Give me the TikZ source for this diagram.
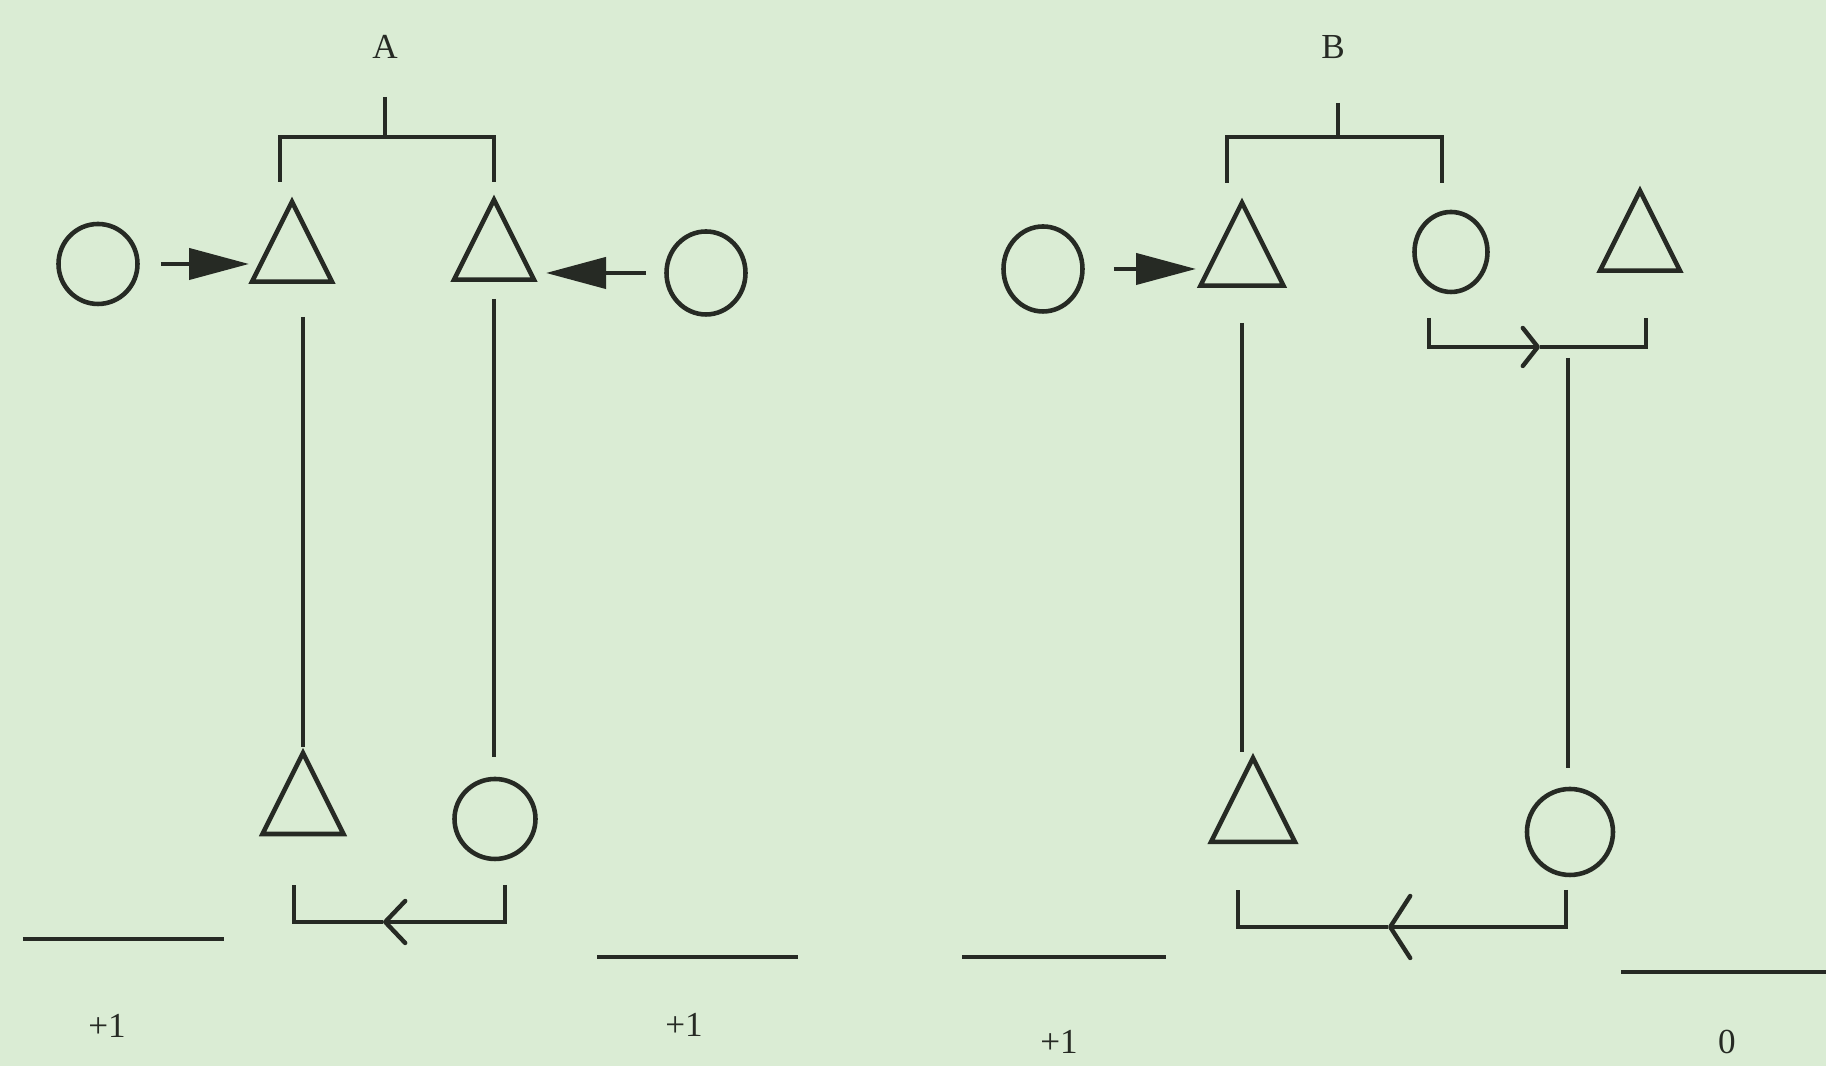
\documentclass[tikz,border=0pt]{standalone}
\usepackage{fontspec}
\setmainfont{Liberation Serif}
\usetikzlibrary{shapes.geometric,arrows.meta,calc}
\definecolor{paper}{RGB}{218,236,212}
\definecolor{ink}{RGB}{38,42,36}
\begin{document}
\begin{tikzpicture}[font=\normalsize, ink,
  ring/.style={ellipse, draw=ink, line width=1.3pt, minimum width=0.79cm, minimum height=0.80cm, inner sep=0pt},
  tri/.style={isosceles triangle, isosceles triangle stretches, shape border rotate=90, draw=ink, line width=1.3pt, minimum width=#1, minimum height=#1, inner sep=0pt},
  tri/.default=0.80cm,
  marry/.style={line width=1.2pt, -{Triangle[length=0.6cm,width=0.31cm]}},
  tie/.style={line width=0.9pt},
  bracket/.style={line width=1.25pt},
  score/.style={line width=1.3pt},
  flow/.style 2 args={-{Straight Barb[length=#1,width=#2,round]}}]
  \useasboundingbox (0,0) rectangle (18.26,10.66);
  \fill[paper] (0,0) rectangle (18.26,10.66);

  % A
  \node (labA) at (3.85,10.19) {A};
  \node[ring] (aC1) at (0.98,8.02) {};
  \node[tri] (aT1) at (2.92,8.09) {};
  \node[tri] (aT2) at (4.94,8.11) {};
  \node[ring, minimum height=0.83cm] (aC2) at (7.06,7.93) {};
  \node[tri=0.81cm] (aT3) at (3.03,2.57) {};
  \node[ring, minimum width=0.81cm] (aC3) at (4.95,2.47) {};
  \coordinate (aTop) at (3.85,9.29);
  \coordinate (aTopL) at (2.80,8.84);
  \coordinate (aTopR) at (4.94,8.84);
  \draw[bracket] ($(aTop |- labA.center)+(0,-5mm)$) -- (aTop);
  \draw[bracket] (aTopL) |- (aTop) -| (aTopR);
  \draw[marry, shorten <=2.1mm, shorten >=4.3mm] (aC1.east) -- (aC1.east -| aT1);
  \draw[marry, shorten <=1.8mm, shorten >=5.2mm] (aC2.west) -- (aC2.west -| aT2);
  \draw[tie] ($(aT3.north |- aT1.south)+(0,-3.3mm)$) -- (aT3.north);
  \draw[tie] ($(aT2.south)+(0,-1.7mm)$) -- ($(aT2.south |- aC3.north)+(0,2mm)$);
  \coordinate (aLowL) at (2.94,1.44);
  \coordinate (aLowR) at (5.05,1.44);
  \coordinate (aLowM) at (3.83,1.44);
  \draw[bracket, flow={0.2cm}{0.42cm}] ([yshift=3.7mm]aLowR) -- (aLowR) -- (aLowM);
  \draw[bracket] (aLowM) -- (aLowL) -- ([yshift=3.7mm]aLowL);
  \draw[score] (0.23,1.27) -- (2.24,1.27);
  \draw[score] (5.97,1.09) -- (7.98,1.09);
  \node (sA1) at (1.07,0.40) {+1};
  \node (sA2) at (6.84,0.41) {+1};

  % B
  \node (labB) at (13.33,10.19) {B};
  \node[ring, minimum height=0.85cm] (bC1) at (10.43,7.97) {};
  \node[tri=0.83cm] (bT1) at (12.42,8.06) {};
  \node[ring, minimum width=0.73cm] (bC2) at (14.51,8.14) {};
  \node[tri] (bT2) at (16.40,8.20) {};
  \node[tri=0.84cm] (bT3) at (12.53,2.50) {};
  \node[ring, minimum width=0.86cm, minimum height=0.86cm] (bC3) at (15.70,2.34) {};
  \coordinate (bTop) at (13.38,9.29);
  \coordinate (bTopL) at (12.27,8.83);
  \coordinate (bTopR) at (14.42,8.83);
  \draw[bracket] ($(bTop |- labB.center)+(0,-5.6mm)$) -- (bTop);
  \draw[bracket] (bTopL) |- (bTop) -| (bTopR);
  \draw[marry, shorten <=2.9mm, shorten >=4.6mm] (bC1.east) -- (bC1.east -| bT1);
  \coordinate (bSideL) at (14.29,7.19);
  \coordinate (bSideR) at (16.46,7.19);
  \coordinate (bSideM) at (15.40,7.19);
  \draw[bracket, flow={0.15cm}{0.38cm}] ([yshift=2.9mm]bSideL) -- (bSideL) -- (bSideM);
  \draw[bracket] (bSideM) -- (bSideR) -- ([yshift=2.9mm]bSideR);
  \coordinate (bDrop) at (15.68,7.08);
  \draw[tie, shorten >=1.9mm] (bDrop) -- (bDrop |- bC3.north);
  \draw[tie] ($(bT1.south)+(0,-3.5mm)$) -- (bT1.south |- bT3.north);
  \coordinate (bLowL) at (12.38,1.39);
  \coordinate (bLowR) at (15.66,1.39);
  \coordinate (bLowM) at (13.88,1.39);
  \draw[bracket, flow={0.2cm}{0.62cm}] ([yshift=3.7mm]bLowR) -- (bLowR) -- (bLowM);
  \draw[bracket] (bLowM) -- (bLowL) -- ([yshift=3.7mm]bLowL);
  \draw[score] (9.62,1.09) -- (11.66,1.09);
  \draw[score] (16.21,0.94) -- (18.26,0.94);
  \node (sB1) at (10.59,0.24) {+1};
  \node (sB2) at (17.27,0.24) {0};
\end{tikzpicture}
\end{document}
